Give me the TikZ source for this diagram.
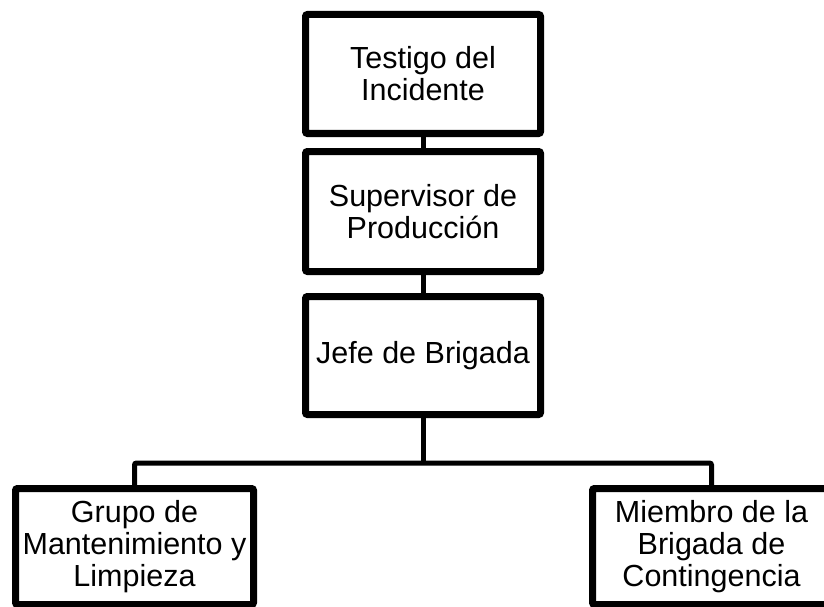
\documentclass[tikz,border=0pt]{standalone}
\usepackage{fontspec}
\setmainfont{Liberation Sans}
\usetikzlibrary{shadows,backgrounds}
\begin{document}
\begin{tikzpicture}[x=1pt,y=-1pt,
  box/.style={draw=black, line width=7pt, fill=white, rounded corners=2pt,
    inner sep=0pt, align=center, font=\fontsize{30.5}{32}\selectfont,
    minimum width=235pt, minimum height=119pt,
    drop shadow={shadow xshift=2pt, shadow yshift=-2pt, opacity=0.3, fill=gray}},
  link/.style={draw=black, line width=5pt}]
\useasboundingbox (0,0) rectangle (824,607);
\node[box] (a) at (423,74) {Testigo del\\Incidente};
\node[box, minimum height=120pt] (b) at (423,211.5) {Supervisor de\\Producción};
\node[box, minimum height=118pt] (c) at (423,355.5) {Jefe de Brigada};
\node[box, minimum width=238pt, minimum height=116pt] (d) at (134.5,546.5) {Grupo de\\Mantenimiento y\\Limpieza};
\node[box, minimum width=238pt, minimum height=116pt] (e) at (711.5,546.5) {Miembro de la\\Brigada de\\Contingencia};
\coordinate (j) at (423,463);
\begin{scope}[on background layer]
\draw[link] (a.south) -- (b.north);
\draw[link] (b.south) -- (c.north);
\draw[link] (c.south) -- (j);
\draw[link, rounded corners=2pt] (d.north) |- (j) -| (e.north);
\end{scope}
\end{tikzpicture}
\end{document}
